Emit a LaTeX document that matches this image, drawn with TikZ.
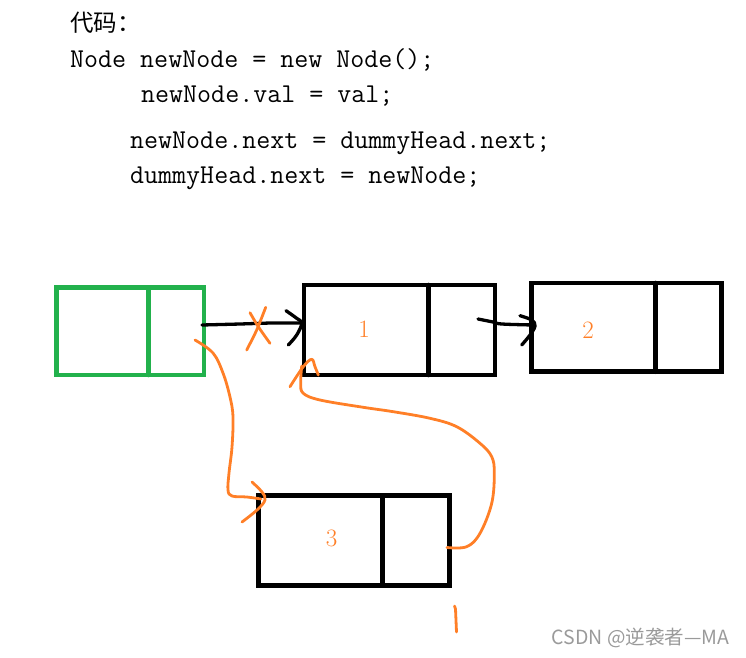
\documentclass[tikz,border=0pt]{standalone}
\usepackage{fontspec}
\newfontfamily\cjk{Noto Sans CJK SC}
\usetikzlibrary{calc}
\definecolor{porange}{HTML}{FF7F27}
\definecolor{pgreen}{HTML}{22B14C}
\definecolor{wmgray}{HTML}{9A9A9A}
\tikzset{
  listbox/.style={draw, rectangle, line width=4.6pt, inner sep=0pt, outer sep=0pt},
  divider/.style={line width=4.6pt, line cap=round},
  codeline/.style={anchor=base west, inner sep=0pt, font=\ttfamily\fontsize{27.2}{30}\selectfont},
  vallabel/.style={inner sep=0pt, text=porange, font=\fontsize{25}{25}\selectfont},
  bstroke/.style={line width=3.3pt, line cap=round, line join=round, black},
  ostroke/.style={line width=2.8pt, line cap=round, line join=round, porange},
}
\begin{document}
\begin{tikzpicture}[x=1pt,y=-1pt]
\useasboundingbox (0,0) rectangle (746,657);
% code text
\node[codeline] (c0) at (70,31) {\cjk\fontsize{23.5}{23.5}\selectfont 代码：};
\node[codeline] (c1) at (70,67) {Node newNode = new Node();};
\node[codeline] (c2) at (141,102) {newNode.val = val;};
\node[codeline] (c3) at (130,148) {newNode.next = dummyHead.next;};
\node[codeline] (c4) at (130,183) {dummyHead.next = newNode;};
% boxes
\node[listbox, draw=pgreen, minimum width=147.5pt, minimum height=87.5pt] (g) at (130.25,331.25) {};
\draw[divider, pgreen] ([xshift=92pt]g.north west) -- ([xshift=92pt]g.south west);
\node[listbox, minimum width=191pt, minimum height=90pt] (n1) at (399.5,330) {};
\draw[divider] ([xshift=124.5pt]n1.north west) -- ([xshift=124.5pt]n1.south west);
\node[listbox, minimum width=190pt, minimum height=88.7pt] (n2) at (626.7,327.35) {};
\draw[divider] ([xshift=124pt]n2.north west) -- ([xshift=124pt]n2.south west);
\node[listbox, minimum width=191.2pt, minimum height=90pt] (n3) at (353.9,540.5) {};
\draw[divider] ([xshift=124pt]n3.north west) -- ([xshift=124pt]n3.south west);
% labels
\node[vallabel] (l1) at (364,329) {1};
\node[vallabel] (l2) at (588,330) {2};
\node[vallabel] (l3) at (331.7,538) {3};
% connector points
\coordinate (gOut) at (202,325);
\coordinate (n1In) at (301,323);
\coordinate (n1Out) at (478,319);
\coordinate (n2In) at (534,325);
\coordinate (gOut2) at (195,340);
\coordinate (n3In) at (261,499);
\coordinate (n3Out) at (447,547.5);
\coordinate (n1In2) at (301.7,366);
% black arrow green -> 1
\draw[bstroke] (gOut) -- (240,324) -- (270,323) -- (n1In);
\draw[bstroke] plot[smooth, tension=0.6] coordinates {(286,310.7) (296.7,318.3) (301.7,323.3) (296.7,335) (288.3,345)};
% black arrow 1 -> 2
\draw[bstroke] plot[smooth, tension=0.6] coordinates {(n1Out) (493,322) (502,324) (n2In)};
\draw[bstroke] plot[smooth, tension=0.6] coordinates {(520,315.7) (531.7,320) (535,326) (530,335) (521.7,345)};
% orange cross
\draw[ostroke] plot[smooth] coordinates {(246.7,350) (256.7,330) (265.7,307.3)};
\draw[ostroke] plot[smooth] coordinates {(250,312.7) (258.3,326.7) (270,343.3)};
% orange curve green -> 3
\draw[ostroke] plot[smooth, tension=0.6] coordinates {(gOut2) (213,353) (223,373) (230,397) (233,417) (232,447) (229,473) (228,490) (232,496) (247,497) (n3In)};
\draw[ostroke] plot[smooth, tension=0.6] coordinates {(252,482) (262,492) (265,500) (257,510) (242,522)};
% orange curve 3 -> 1
\draw[ostroke] plot[smooth, tension=0.6] coordinates {(n3Out) (466.7,546.7) (480,533.3) (491.7,503.3) (494.3,473.3) (491.7,456.7) (480,443.3) (456.7,426.7) (430,418.3) (393.3,411.7) (363.3,407.3) (320,400) (303.3,393.3) (300.7,383.3) (n1In2)};
\draw[ostroke] plot[smooth, tension=0.6] coordinates {(290,386.7) (303.3,366.7) (311.7,359.3) (315,366.7) (318.3,375)};
% small orange mark
\coordinate (mTop) at (454.5,606);
\coordinate (mBot) at (456.5,632);
\draw[ostroke] (mTop) -- (455.5,609) -- (mBot);
% watermark
\node[anchor=west, inner sep=0pt, text=wmgray, font=\cjk\fontsize{19.5}{19.5}\selectfont] (wm) at (551.7,638) {CSDN @逆袭者—MA};
\end{tikzpicture}
\end{document}
